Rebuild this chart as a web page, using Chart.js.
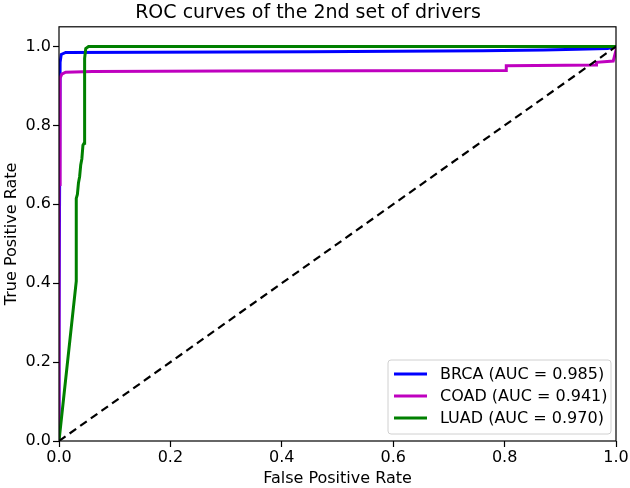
<!DOCTYPE html>
<html>
<head>
<meta charset="utf-8">
<script src="https://cdn.jsdelivr.net/npm/chart.js@4.4.1/dist/chart.umd.min.js"></script>
<style>
	html, body { margin: 0; padding: 0; background: #fff; }
	#wrap { width: 630px; height: 488px; }
</style>
</head>
<body>
<div id="wrap"><canvas id="roc" width="630" height="488"></canvas></div>
<script>
// values
const brcaFpr = [0, 0, 0.002, 0.004, 0.012, 0.45, 0.76, 0.87, 0.93, 0.985, 1];
const brcaTpr = [0, 0.25, 0.96, 0.98, 0.985, 0.987, 0.989, 0.991, 0.993, 0.995, 1];

const coadFpr = [0, 0, 0.002, 0.002, 0.005, 0.012, 0.06, 0.3, 0.803, 0.803, 0.965, 0.965, 0.995, 1, 1];
const coadTpr = [0, 0.65, 0.65, 0.92, 0.93, 0.935, 0.937, 0.938, 0.939, 0.951, 0.953, 0.96, 0.963, 0.99, 1];

const luadFpr = [0, 0.031, 0.031, 0.033, 0.035, 0.037, 0.039, 0.041, 0.043, 0.045, 0.046, 0.048, 0.053, 1];
const luadTpr = [0, 0.405, 0.615, 0.625, 0.655, 0.67, 0.70, 0.715, 0.75, 0.755, 0.97, 0.995, 1, 1];

const chanceFpr = [0, 1];
const chanceTpr = [0, 1];

const seriesLabels = ['BRCA (AUC = 0.985)', 'COAD (AUC = 0.941)', 'LUAD (AUC = 0.970)'];
const seriesColors = ['#0000ff', '#bf00bf', '#008000'];

const xTicks = [0, 0.2, 0.4, 0.6, 0.8, 1.0];
const yTicks = [0, 0.2, 0.4, 0.6, 0.8, 1.0];

const FONT = 'DejaVu Sans';

function toPoints(xs, ys) {
	return xs.map((x, i) => ({ x: x, y: ys[i] }));
}

function curve(label, xs, ys, color, order) {
	return {
		label: label,
		data: toPoints(xs, ys),
		borderColor: color,
		backgroundColor: color,
		borderWidth: 3,
		pointRadius: 0,
		showLine: true,
		fill: false,
		tension: 0,
		order: order,
	};
}

// full box around the plot, like matplotlib spines
const frame = {
	id: 'frame',
	afterDatasetsDraw(chart) {
		let a = chart.chartArea;
		let ctx = chart.ctx;
		ctx.save();
		ctx.strokeStyle = '#000';
		ctx.lineWidth = 1.2;
		ctx.strokeRect(a.left, a.top, a.right - a.left, a.bottom - a.top);
		ctx.restore();
	}
};

// legend box in the lower right corner of the plot
const cornerLegend = {
	id: 'cornerLegend',
	afterDraw(chart) {
		let a = chart.chartArea;
		let ctx = chart.ctx;
		let sets = chart.data.datasets.filter((d) => d.label);
		let boxW = 223, rowH = 22;
		let boxH = 8 + sets.length * rowH;
		let x0 = a.right - 5 - boxW, y0 = a.bottom - 7 - boxH;
		ctx.save();
		ctx.beginPath();
		ctx.roundRect(x0, y0, boxW, boxH, 3);
		ctx.fillStyle = 'rgba(255,255,255,0.8)';
		ctx.fill();
		ctx.strokeStyle = '#d0d0d0';
		ctx.lineWidth = 1;
		ctx.stroke();
		ctx.font = '16px "' + FONT + '"';
		ctx.textBaseline = 'middle';
		ctx.fillStyle = '#000';
		sets.forEach((d, i) => {
			let y = y0 + 14 + i * rowH;
			ctx.beginPath();
			ctx.strokeStyle = d.borderColor;
			ctx.lineWidth = 3;
			ctx.moveTo(x0 + 6, y);
			ctx.lineTo(x0 + 39, y);
			ctx.stroke();
			ctx.fillText(d.label, x0 + 52, y + 1);
		});
		ctx.restore();
	}
};

Chart.defaults.color = '#000';
Chart.defaults.font.family = FONT;

new Chart(document.getElementById('roc'), {
	type: 'scatter',
	data: {
		datasets: [
			curve(seriesLabels[0], brcaFpr, brcaTpr, seriesColors[0], 4),
			curve(seriesLabels[1], coadFpr, coadTpr, seriesColors[1], 3),
			curve(seriesLabels[2], luadFpr, luadTpr, seriesColors[2], 2),
			{
				label: '',
				data: toPoints(chanceFpr, chanceTpr),
				borderColor: '#000',
				borderWidth: 2.2,
				borderDash: [8, 5],
				pointRadius: 0,
				showLine: true,
				order: 1,
			},
		],
	},
	options: {
		responsive: false,
		animation: false,
		layout: { padding: { left: 0, right: 14, top: 0, bottom: 0 } },
		plugins: {
			legend: { display: false },
			tooltip: { enabled: false },
			title: {
				display: true,
				text: 'ROC curves of the 2nd set of drivers',
				font: { size: 19, weight: 'normal' },
				color: '#000',
				padding: { top: 2, bottom: 2 },
			},
		},
		scales: {
			x: {
				type: 'linear',
				min: 0,
				max: 1,
				afterBuildTicks: (s) => { s.ticks = xTicks.map((v) => ({ value: v })); },
				afterFit: (s) => { s.height = 47; },
				grid: { drawOnChartArea: false, drawTicks: true, tickLength: 6, color: '#000', tickWidth: 1.2 },
				border: { display: false },
				ticks: { font: { size: 16 }, padding: 1, maxRotation: 0, callback: (v) => v.toFixed(1) },
				title: { display: true, text: 'False Positive Rate', font: { size: 16 }, padding: { top: 1, bottom: 0 } },
			},
			y: {
				type: 'linear',
				min: 0,
				max: 1.05,
				afterBuildTicks: (s) => { s.ticks = yTicks.map((v) => ({ value: v })); },
				afterFit: (s) => { s.width = 59; },
				grid: { drawOnChartArea: false, drawTicks: true, tickLength: 6, color: '#000', tickWidth: 1.2 },
				border: { display: false },
				ticks: { font: { size: 16 }, padding: 2, callback: (v) => v.toFixed(1) },
				title: { display: true, text: 'True Positive Rate', font: { size: 16 }, padding: { top: 2, bottom: 0 } },
			},
		},
	},
	plugins: [frame, cornerLegend],
});
</script>
</body>
</html>
